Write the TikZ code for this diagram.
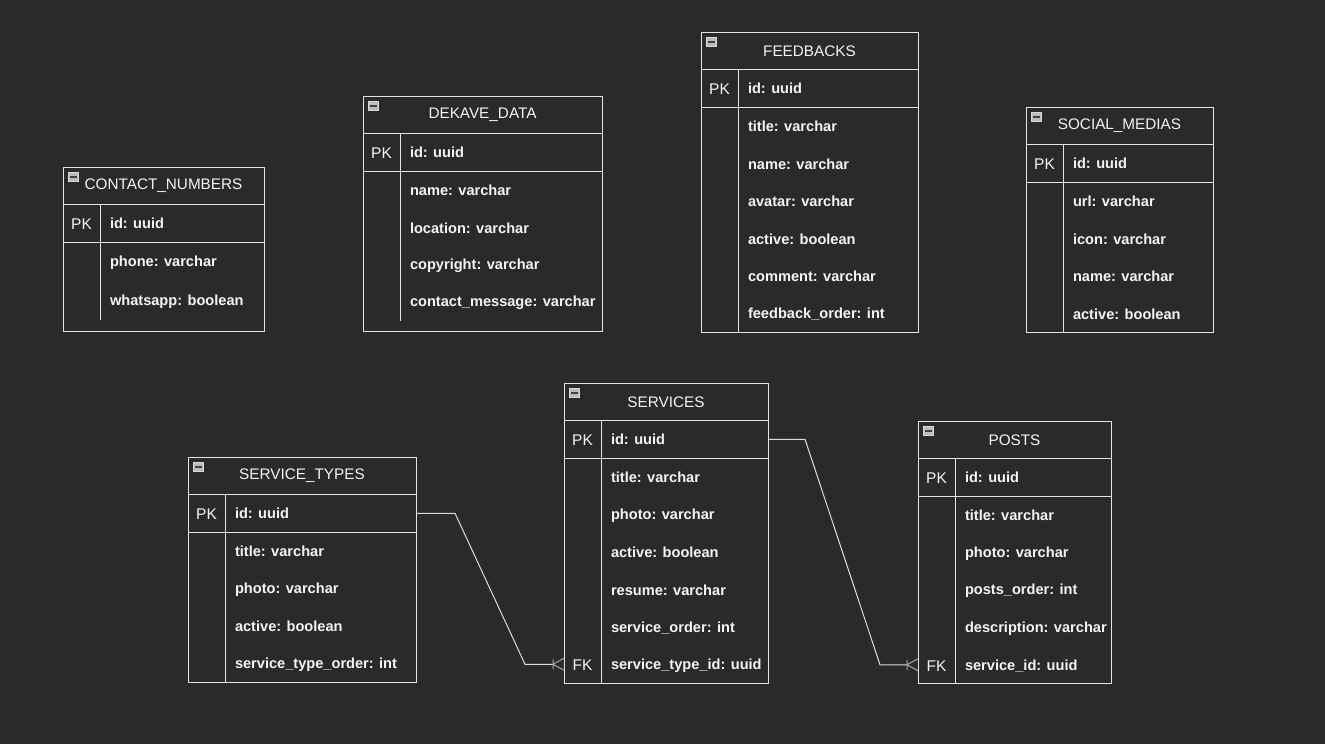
\documentclass[tikz,border=0pt]{standalone}
\usepackage{fontspec}
\setmainfont{Liberation Sans}
\usetikzlibrary{positioning,calc}
\definecolor{canvas}{HTML}{2A2A2A}
\definecolor{frame}{HTML}{E4E4E4}
\definecolor{ink}{HTML}{F4F4F4}
\definecolor{link}{HTML}{DCDCDC}
\definecolor{iconfill}{HTML}{B8BCC4}
\def\rowh{37.5}

% one entity table: #1 id, #2 left, #3 top, #4 width, #5 height, #6 title, #7 fields below the key
\newcommand{\ertable}[7]{%
	\node[headbox,minimum width=#4pt,anchor=north west](#1) at (#2,#3) {#6};
	\node[rowbox,minimum width=#4pt,anchor=north west](#1-pk) at (#1.south west) {};
	\node[keytext](#1-pk-key) at ($(#1-pk.west)+(18.5,0.5)$) {PK};
	\node[fieldtext](#1-pk-text) at ($(#1-pk.west)+(47,0.5)$) {id: uuid};
	\draw[frameline] ($(#1-pk.north west)+(37,0)$) -- ($(#1-pk.south west)+(37,0)$);
	\foreach \f [count=\i] in {#7}{
		\node[rowslot,minimum width=#4pt,minimum height=\rowh pt,anchor=north west](#1-r\i) at ($(#1-pk.south west)+(0,{\rowh*(\i-1)})$) {};
		\node[fieldtext](#1-f\i) at ($(#1-r\i.west)+(47,1)$) {\f};
		\draw[frameline] ($(#1-r\i.north west)+(37,0)$) -- ($(#1-r\i.south west)+(37,0)$);
	}
	\draw[frameline] (#1.north west) rectangle ++(#4,#5);
	\node[iconbox](#1-icon) at ($(#1.north west)+(10.5,10)$) {};
	\fill[black!75] ($(#1-icon.center)+(-3.5,-0.8)$) rectangle ($(#1-icon.center)+(3.5,0.8)$);
}

\begin{document}
\begin{tikzpicture}[% sizes are in screen pixels
		x=1pt,y=-1pt,
		every node/.style={inner sep=0pt,outer sep=0pt},
		headbox/.style={draw=frame,line width=1pt,minimum height=37.5pt,
			text=ink,font=\fontsize{15.3}{18}\selectfont},
		rowbox/.style={draw=frame,line width=1pt,minimum height=37.5pt},
		rowslot/.style={minimum height=37.5pt},
		keytext/.style={text=ink,font=\fontsize{15.5}{18}\selectfont},
		fieldtext/.style={anchor=west,text=ink,font=\fontsize{14.6}{17}\selectfont\bfseries},
		frameline/.style={draw=frame,line width=1pt},
		iconbox/.style={minimum size=9.5pt,fill=iconfill,draw=white!70!gray,line width=0.8pt},
		linkline/.style={draw=link,line width=1pt},
		crowfoot/.pic={\draw[linkline,draw=gray!70!white] (0,-5) -- (0,5) (0,0) -- (11,-6) (0,0) -- (11,6);}
	]
	\fill[canvas] (0,0) rectangle (1325,744);
	\useasboundingbox (0,0) rectangle (1325,744);

	% upper row
	\def\rowh{39}
	\ertable{CN}{63}{167}{201}{164}{CONTACT\_NUMBERS}{phone: varchar,whatsapp: boolean}
	\def\rowh{37.5}
	\ertable{DD}{363}{96}{239}{235}{DEKAVE\_DATA}{name: varchar,location: varchar,copyright: varchar,contact\_message: varchar}
	\ertable{FB}{701}{32}{217}{300}{FEEDBACKS}{title: varchar,name: varchar,avatar: varchar,active: boolean,comment: varchar,feedback\_order: int}
	\ertable{SM}{1026}{107}{187}{225}{SOCIAL\_MEDIAS}{url: varchar,icon: varchar,name: varchar,active: boolean}

	% lower row
	\ertable{ST}{188}{457}{228}{225}{SERVICE\_TYPES}{title: varchar,photo: varchar,active: boolean,service\_type\_order: int}
	\ertable{SV}{564}{383}{204}{300}{SERVICES}{title: varchar,photo: varchar,active: boolean,resume: varchar,service\_order: int,service\_type\_id: uuid}
	\ertable{PO}{918}{421}{193}{262.5}{POSTS}{title: varchar,photo: varchar,posts\_order: int,description: varchar,service\_id: uuid}
	\node[keytext](SV-fk) at ($(SV-r6.west)+(18.5,1)$) {FK};
	\node[keytext](PO-fk) at ($(PO-r5.west)+(18.5,1)$) {FK};

	% relations
	\draw[linkline] (ST-pk.east) -- ++(39,0) -- ([xshift=-39pt]SV-r6.west) -- ([xshift=-11pt]SV-r6.west);
	\pic at ([xshift=-11pt]SV-r6.west) {crowfoot};
	\draw[linkline] (SV-pk.east) -- ++(37,0) -- ([xshift=-38pt]PO-r5.west) -- ([xshift=-11pt]PO-r5.west);
	\pic at ([xshift=-11pt]PO-r5.west) {crowfoot};
\end{tikzpicture}
\end{document}
